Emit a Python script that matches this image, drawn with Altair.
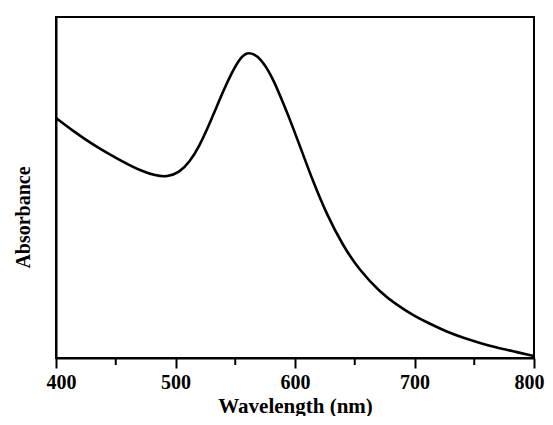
import altair as alt
import pandas as pd

# Values (absorbance in arbitrary units, 0..1 of the plot height)
wavelength = [400, 415, 430, 445, 460, 472, 483, 493, 503, 512, 520, 527, 534, 540,
              547, 554, 560, 566, 571, 576, 582, 590, 599, 607, 615, 626, 640, 654,
              671, 685, 699, 713, 727, 741, 755, 768, 782, 800]
absorbance = [0.704, 0.664, 0.628, 0.597, 0.568, 0.548, 0.535, 0.531, 0.543, 0.575,
              0.622, 0.675, 0.733, 0.783, 0.836, 0.880, 0.897, 0.891, 0.877, 0.853,
              0.815, 0.749, 0.670, 0.594, 0.519, 0.425, 0.330, 0.257, 0.194, 0.156,
              0.125, 0.100, 0.077, 0.059, 0.044, 0.031, 0.020, 0.006]
major_ticks = [400, 500, 600, 700, 800]
minor_ticks = [450, 550, 650, 750]

df = pd.DataFrame({"wavelength": wavelength, "absorbance": absorbance})
minor_df = pd.DataFrame({"wavelength": minor_ticks})

FONT = "Liberation Serif"
W, H = 478, 341

x_scale = alt.Scale(domain=[400, 800], nice=False, zero=False)
y_scale = alt.Scale(domain=[0, 1], nice=False, zero=False)

x_axis = alt.Axis(
    values=major_ticks, title="Wavelength (nm)", grid=False,
    tickSize=10, labelPadding=20, labelBaseline="alphabetic",
    labelFlush=True, labelFlushOffset=10,
    titleY=54, titleBaseline="alphabetic", titleFontSize=21,
)
y_axis = alt.Axis(
    title="Absorbance", ticks=False, labels=False, grid=False,
    titleAngle=270, titleX=-27, titleY=200, titleAlign="center",
    titleBaseline="alphabetic", titleFontSize=20,
)

line = alt.Chart(df).mark_line(color="black", strokeWidth=2.6, interpolate="basis").encode(
    x=alt.X("wavelength:Q", scale=x_scale, axis=x_axis),
    y=alt.Y("absorbance:Q", scale=y_scale, axis=y_axis),
)

minor = alt.Chart(minor_df).mark_rule(color="black", strokeWidth=2).encode(
    x=alt.X("wavelength:Q", scale=x_scale, axis=x_axis),
    y=alt.value(H),
    y2=alt.value(H + 7),
)

chart = alt.layer(line, minor).properties(
    width=W, height=H,
    padding={"left": 48, "top": 9, "right": 11, "bottom": 58},
    autosize=alt.AutoSizeParams(type="none"),
    background="white",
).configure_view(
    stroke="black", strokeWidth=2
).configure_axis(
    domainColor="black", domainWidth=2, tickColor="black", tickWidth=2,
    labelFont=FONT, labelFontWeight="bold", labelFontSize=20, labelColor="black",
    titleFont=FONT, titleFontWeight="bold", titleColor="black",
)

chart.save("out.html", embed_options={"renderer": "svg", "actions": False})
